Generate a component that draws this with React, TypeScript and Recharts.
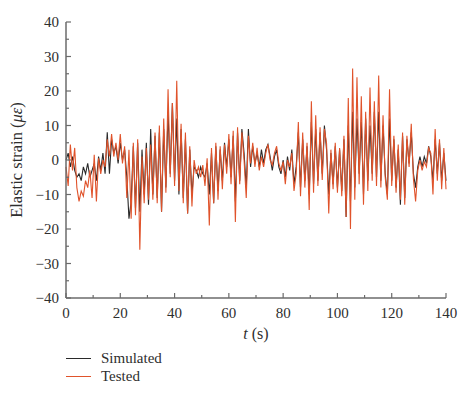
import React from 'react';
import { LineChart, Line, XAxis, YAxis, Legend } from 'recharts';

// sample times (s), one every 0.8 s from 0 to 140
const times = Array.from({ length: 176 }, (_, i) => Math.round(i * 8) / 10);

const simulated = [
  0, 2, -2, 1, -3, -5, -4, -6, -2, -4,
  -1, -5, -3, -1, -6, 1, -3, 2, -4, 8,
  -4, 6, 2, 4, -1, 5, 0, 3, -5, -17,
  -12, 4, -14, 5, -15, 3, -10, 5, -13, 9,
  -10, 7, -11, 8, -15, 9, -8, 14, -4, 16.5,
  -6, 12, -10, 9, -11, 6, -15.5, 3, -10, -2,
  -3, -5, -2, -4, -5, -1, -10, 2, -12.5, 4,
  -9, 3, -6, 5, -2, 6, -5, 7, -12, 8,
  -6, 9, 2, -8, 9, -2, 4, -1, 2, -2,
  3, -1, 3, 4.5, 1, -3, 1, 3, -2, -4,
  0, -5, 1, -3, 3, -7, -2, 8, -8, 6,
  -6, 4, -10, 11, -7, 9, -6, 8, -4, 10,
  3, -10, 2, -7, 4, -8, 3, -9, 6, -16.5,
  10, -12, 14, -8, 12, -4, 11, -10, 12, -6,
  10, -4, 14, -5, 14, -6, 10, -4, -10, 12,
  -6, 6, -8, 3, -13, 7, -11, 6, -1, 8,
  -4, -8, -2, 1, -2, 1, -1, 4, 1, -6,
  6, -4, 5, -6, 2, -6,
];

const tested = [
  -2, -7.5, 4.5, -3, 3.5, -8, -12, -9, -10.5, -6,
  -8, -3, -11, 1.5, -12, 0.5, -4, 0, -2, 6,
  1, 7.5, 1, 5, 0, 7.5, -1, 4, -11, 3,
  -17, 5, -16, 6, -26, 1, -12.5, 3.5, -11.5, 4.5,
  -11.5, 8, -12.5, 10, -15, 12, -9.5, 20.5, -5, 16.5,
  -7.5, 23, -9, 10.5, -12.5, 8, -15.5, 4, -13.5, 0,
  -4, -2, -5, -1.5, -7.5, 0.5, -19, 3.5, -12.5, 5,
  -11.5, 4, -8.5, 4.5, -4, 7.5, -7, 8.5, -18, 9.5,
  -7, 8, 0, -11, 7, -1, 5, -2, 3.5, -3,
  1, -2, 2, 4.5, 0, -1.5, 2, 4, -1, -3,
  -0.5, -7, 0, -2, 2, -9, -4, 11, -10.5, 8,
  -8, 5, -14.5, 17, -9.5, 13, -7.5, 9.5, -5.8, 9,
  4.8, -15.5, 3, -8.5, 5, -9.5, 3.5, -10.5, 7, -16.5,
  18, -20, 26.5, -11.5, 24, -7, 18.5, -13, 14, -9,
  21, -6, 17, -7.5, 24.5, -8, 13, -5, -11.5, 20.5,
  -7.5, 7, -9.5, 4.5, -11.5, 8, -13, 7, -2, 10.5,
  -5.5, -12, -3, 0, -3, -0.5, -2, 3.5, 2, -10,
  9, -6, 6, -8.5, 3.5, -8.5,
];

const xTicks = [0, 10, 20, 30, 40, 50, 60, 70, 80, 90, 100, 110, 120, 130, 140];
const yTicks = [-40, -35, -30, -25, -20, -15, -10, -5, 0, 5, 10, 15, 20, 25, 30, 35, 40];

const data = times.map((t, i) => ({ t, simulated: simulated[i], tested: tested[i] }));

const FONT = '"Liberation Serif", "DejaVu Serif", serif';
const AXIS = '#6b6b6b';
const TEXT = '#2e2e2e';

const XTick = ({ x, y, payload }: any) => {
  const major = payload.value % 20 === 0;
  return (
    <g>
      <line x1={x} x2={x} y1={y} y2={y - (major ? 5 : 3)} stroke={AXIS} strokeWidth={1.2} />
      {major && (
        <text x={x} y={y + 20} textAnchor="middle" fontFamily={FONT} fontSize={15} fill={TEXT}>
          {payload.value}
        </text>
      )}
    </g>
  );
};

const YTick = ({ x, y, payload }: any) => {
  const major = payload.value % 10 === 0;
  return (
    <g>
      <line x1={x} x2={x + (major ? 5 : 3)} y1={y} y2={y} stroke={AXIS} strokeWidth={1.2} />
      {major && (
        <text x={x - 7} y={y + 5} textAnchor="end" fontFamily={FONT} fontSize={15} fill={TEXT}>
          {String(payload.value).replace('-', '\u2212')}
        </text>
      )}
    </g>
  );
};

const XLabel = ({ viewBox }: any) => (
  <text x={viewBox.x + viewBox.width / 2} y={viewBox.y + 41} textAnchor="middle" fontFamily={FONT} fontSize={16} fill={TEXT}>
    <tspan fontStyle="italic">t</tspan> (s)
  </text>
);

const YLabel = ({ viewBox }: any) => {
  const cx = viewBox.x + 16;
  const cy = viewBox.y + viewBox.height / 2;
  return (
    <text x={cx} y={cy} transform={`rotate(-90 ${cx} ${cy})`} textAnchor="middle" fontFamily={FONT} fontSize={16.5} fill={TEXT}>
      Elastic strain (<tspan fontStyle="italic">με</tspan>)
    </text>
  );
};

const LegendBox = ({ payload }: any) => (
  <div style={{ fontFamily: FONT, fontSize: 15, color: TEXT, height: 40 }}>
    {payload.map((p: any) => (
      <div key={p.value} style={{ display: 'flex', alignItems: 'center', height: 18 }}>
        <span style={{ display: 'inline-block', width: 25, height: 0, borderTop: `1.5px solid ${p.color}`, marginRight: 10 }} />
        <span>{p.value}</span>
      </div>
    ))}
  </div>
);

export default function App() {
  return (
    <div style={{ position: 'absolute', left: 0, top: 0, background: '#fff' }}>
      <LineChart width={474} height={398} data={data} margin={{ top: 22, right: 28, left: 6, bottom: 30 }}>
        <XAxis
          dataKey="t"
          type="number"
          domain={[0, 140]}
          ticks={xTicks}
          interval={0}
          height={30}
          tickSize={0}
          tickMargin={0}
          tickLine={false}
          tick={<XTick />}
          axisLine={{ stroke: AXIS, strokeWidth: 1.5 }}
          label={<XLabel />}
        />
        <XAxis xAxisId="top" orientation="top" type="number" domain={[0, 140]} height={0} tick={false} tickLine={false} axisLine={{ stroke: AXIS, strokeWidth: 1.5 }} />
        <YAxis
          type="number"
          domain={[-40, 40]}
          ticks={yTicks}
          interval={0}
          width={60}
          tickSize={0}
          tickMargin={0}
          tickLine={false}
          tick={<YTick />}
          axisLine={{ stroke: AXIS, strokeWidth: 1.5 }}
          label={<YLabel />}
        />
        <YAxis yAxisId="right" orientation="right" type="number" domain={[-40, 40]} width={0} tick={false} tickLine={false} axisLine={{ stroke: AXIS, strokeWidth: 1.5 }} />
        <Legend
          layout="horizontal"
          verticalAlign="bottom"
          align="left"
          content={<LegendBox />}
          wrapperStyle={{ left: 66, top: 349, width: 150, height: 40 }}
        />
        <Line type="linear" dataKey="simulated" name="Simulated" stroke="#2a2a2a" strokeWidth={1.1} dot={false} isAnimationActive={false} />
        <Line type="linear" dataKey="tested" name="Tested" stroke="#e0532b" strokeWidth={1.1} dot={false} isAnimationActive={false} />
      </LineChart>
    </div>
  );
}
